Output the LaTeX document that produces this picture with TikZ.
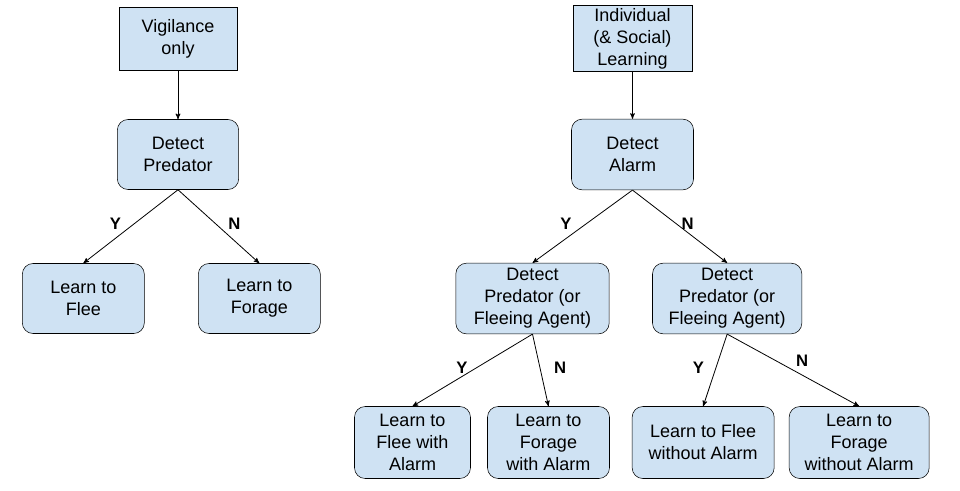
\documentclass[tikz,border=0pt]{standalone}
\usepackage{fontspec}
\setmainfont{Liberation Sans}
\usetikzlibrary{arrows}
\usetikzlibrary{positioning}
\definecolor{boxblue}{HTML}{CFE2F3}

\begin{document}
\begin{tikzpicture}[x=0.75pt,y=-0.75pt,node distance=108pt,on grid,>=stealth',auto,
		state/.style={rectangle,rounded corners=8pt,draw=black,fill=boxblue,align=center,inner sep=2pt,
			font=\fontsize{13.5}{16.5}\selectfont},
		start/.style={state,sharp corners},
		yn/.style={font=\bfseries\fontsize{12.5}{14}\selectfont,inner sep=5pt,yshift=-7.5pt}]
		\useasboundingbox (0,0) rectangle (960,490);
		
		% left tree
		\node[start,minimum width=88.5pt,minimum height=47pt]  (vigil)   at (178,38.5)                 {Vigilance\\only};
		\node[state,minimum width=91pt,minimum height=52.5pt]  (detpred) [below=87pt of vigil]         {Detect\\Predator};
		\node[state,minimum width=91.5pt,minimum height=52.5pt] (flee)   [below left=108pt and 71pt of detpred]  {Learn to\\Flee};
		\node[state,minimum width=91.5pt,minimum height=52.5pt] (forage) [below right=108pt and 61pt of detpred] {Learn to\\Forage};
		
		% right tree
		\node[start,minimum width=89pt,minimum height=47pt]    (indiv)   at (632.5,38.5)               {Individual\\(\& Social)\\Learning};
		\node[state,minimum width=91.5pt,minimum height=53pt]  (detalarm) [below=87pt of indiv]        {Detect\\Alarm};
		\node[state,minimum width=115pt,minimum height=53pt]   (dpl)     [below left=108pt and 75pt of detalarm]  {Detect\\Predator (or\\Fleeing Agent)};
		\node[state,minimum width=112pt,minimum height=53pt]   (dpr)     [below right=108pt and 71pt of detalarm] {Detect\\Predator (or\\Fleeing Agent)};
		\node[state,minimum width=87pt,minimum height=54pt]    (fleeal)  [below left=108pt and 90pt of dpl]   {Learn to\\Flee with\\Alarm};
		\node[state,minimum width=91.5pt,minimum height=54pt]  (forageal) [below right=108pt and 12pt of dpl] {Learn to\\Forage\\with Alarm};
		\node[state,minimum width=106.5pt,minimum height=54pt] (fleenoal) [below left=108pt and 18pt of dpr]  {Learn to Flee\\without Alarm};
		\node[state,minimum width=105pt,minimum height=54pt]   (foragenoal) [below right=108pt and 99pt of dpr] {Learn to\\Forage\\without Alarm};
		
		\path[->,line width=0.6pt]
		(vigil.south) edge (detpred.north)
		(detpred.south) edge node[yn,swap,xshift=-2pt] {Y} (flee.north)
		(detpred.south) edge node[yn,xshift=2pt] {N} (forage.north)
		(indiv.south) edge (detalarm.north)
		(detalarm.south) edge node[yn,swap,xshift=-3pt] {Y} (dpl.north)
		(detalarm.south) edge node[yn,xshift=-4pt] {N} (dpr.north)
		(dpl.south) edge node[yn,swap,xshift=1.5pt] {Y} (fleeal.north)
		(dpl.south) edge node[yn,xshift=5pt] {N} (forageal.north)
		(dpr.south) edge node[yn,swap,xshift=-3pt] {Y} (fleenoal.north)
		(dpr.south) edge node[yn,xshift=-3pt,yshift=5pt] {N} (foragenoal.north);
\end{tikzpicture}
\end{document}
